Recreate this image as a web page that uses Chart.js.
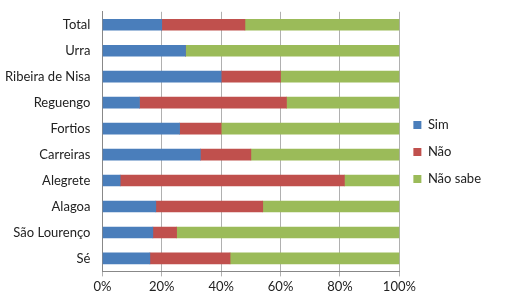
<!DOCTYPE html>
<html>
<head>
<meta charset="utf-8">
<script src="https://cdn.jsdelivr.net/npm/chart.js@4"></script>
<style>
  html, body { margin: 0; padding: 0; background: #fff; }
</style>
</head>
<body>
<canvas id="grafico" width="512" height="298"></canvas>
<script>
const locais = ['Total', 'Urra', 'Ribeira de Nisa', 'Reguengo', 'Fortios', 'Carreiras', 'Alegrete', 'Alagoa', 'São Lourenço', 'Sé'];
const sim     = [20, 28, 40, 12.5, 26, 33, 6, 18, 17, 16];
const nao     = [28, 0, 20, 49.5, 14, 17, 75.5, 36, 8, 27];
const naoSabe = [52, 72, 40, 38, 60, 50, 18.5, 46, 75, 57];
const ticksPct = [0, 20, 40, 60, 80, 100];

new Chart(document.getElementById('grafico'), {
    type: 'bar',
    data: {
        labels: locais,
        datasets: [
            { label: 'Sim', data: sim, backgroundColor: '#4a7ebb', barThickness: 11 },
            { label: 'Não', data: nao, backgroundColor: '#c0504d', barThickness: 11 },
            { label: 'Não sabe', data: naoSabe, backgroundColor: '#9bbb59', barThickness: 11 }
        ]
    },
    options: {
        indexAxis: 'y',
        responsive: false,
        animation: false,
        layout: { padding: { top: 6, right: 21, bottom: 0, left: 1 } },
        scales: {
            x: {
                stacked: true,
                min: 0,
                max: 100,
                afterBuildTicks: axis => { axis.ticks = ticksPct.map(v => ({ value: v })); },
                ticks: {
                    callback: v => v + '%',
                    color: '#222',
                    maxRotation: 0,
                    font: { family: 'Lato', size: 13 },
                    padding: 3
                },
                grid: { color: '#b0b0b0', tickLength: 5 },
                border: { color: '#888' }
            },
            y: {
                stacked: true,
                ticks: {
                    color: '#222',
                    autoSkip: false,
                    font: { family: 'Lato', size: 13 },
                    padding: 4
                },
                grid: { display: false },
                border: { color: '#888' }
            }
        },
        plugins: {
            legend: {
                position: 'right',
                align: 'center',
                labels: {
                    boxWidth: 8,
                    boxHeight: 8,
                    padding: 14,
                    color: '#222',
                    font: { family: 'Lato', size: 13 }
                }
            },
            tooltip: { enabled: false }
        }
    }
});
</script>
</body>
</html>
